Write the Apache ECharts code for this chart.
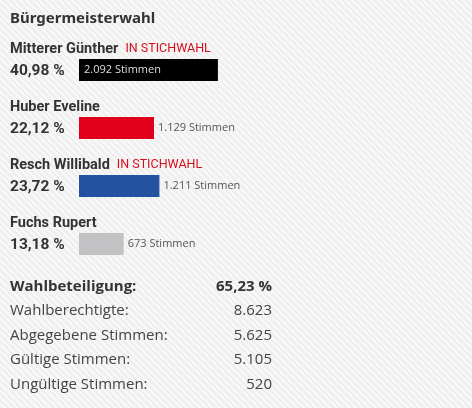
<!DOCTYPE html>
<html>
<head>
<meta charset="utf-8">
<script src="https://cdn.jsdelivr.net/npm/echarts@6/dist/echarts.min.js"></script>
<style>
html,body{margin:0;padding:0;}
body{background:repeating-linear-gradient(45deg,#efefef 0px,#efefef 2.4px,#f8f8f8 2.4px,#f8f8f8 4.6px);}
#chart{width:472px;height:408px;}
</style>
</head>
<body>
<div id="chart"></div>
<script>
var title = 'Bürgermeisterwahl';
var candidates = ['Mitterer Günther', 'Huber Eveline', 'Resch Willibald', 'Fuchs Rupert'];
var percents = [40.98, 22.12, 23.72, 13.18];
var votes = [2092, 1129, 1211, 673];
var runoff = [true, false, true, false];
var barColors = ['#000000', '#e0001b', '#2353a0', '#c2c2c4'];
var runoffTag = 'IN STICHWAHL';
var statLabels = ['Wahlbeteiligung:', 'Wahlberechtigte:', 'Abgegebene Stimmen:', 'Gültige Stimmen:', 'Ungültige Stimmen:'];
var statValues = ['65,23 %', '8.623', '5.625', '5.105', '520'];

function fmtPct(v){ return v.toFixed(2).replace('.', ',') + ' %'; }
function fmtInt(v){ return String(v).replace(/\B(?=(\d{3})+(?!\d))/g, '.'); }

var narrow = 'Roboto,sans-serif';
var chart = echarts.init(document.getElementById('chart'), null, {renderer:'canvas'});

var barData = percents.map(function(p, i){
  var inside = i === 0;
  return {
    value: p,
    itemStyle: {color: barColors[i]},
    label: inside ? {
      show: true, position: 'insideLeft', distance: 5, color: '#dddddd',
      fontSize: 11, fontFamily: '"Open Sans",sans-serif',
      formatter: fmtInt(votes[i]) + ' Stimmen'
    } : {
      show: true, position: 'right', distance: 4, color: '#555555',
      fontSize: 11, fontFamily: '"Open Sans",sans-serif', padding: [4,0,0,0],
      formatter: fmtInt(votes[i]) + ' Stimmen'
    }
  };
});

var option = {
  animation: false,
  backgroundColor: 'transparent',
  title: {
    text: title, left: 10, top: 11, padding: 0,
    textStyle: {fontSize: 15, fontWeight: 'bold', color: '#333333', fontFamily: '"Noto Sans",sans-serif'}
  },
  grid: [
    {left: 79, top: 41, width: 339, height: 232},
    {left: 10, top: 274, width: 262, height: 122.5}
  ],
  xAxis: [
    {gridIndex: 0, type: 'value', min: 0, max: 100, show: false},
    {gridIndex: 1, type: 'value', min: 0, max: 1, show: false}
  ],
  yAxis: [
    {
      gridIndex: 0, type: 'category', inverse: true, data: candidates,
      axisLine: {show: false}, axisTick: {show: false}, splitLine: {show: false},
      axisLabel: {
        margin: 69, align: 'left', verticalAlign: 'middle', padding: [0,0,20,0],
        formatter: function(v, i){
          var s = '{n|' + v + '}';
          if (runoff[i]) s += '{t|' + runoffTag + '}';
          s += '\n{p|' + fmtPct(percents[i]) + '}';
          return s;
        },
        rich: {
          n: {fontSize: 14.5, fontWeight: 'bold', color: '#333333', fontFamily: narrow, lineHeight: 22},
          t: {fontSize: 12.5, color: '#d60f1c', fontFamily: narrow, lineHeight: 22, padding: [0,0,0,7]},
          p: {fontSize: 15.5, fontWeight: 'bold', color: '#333333', fontFamily: narrow, lineHeight: 22}
        }
      }
    },
    {
      gridIndex: 1, type: 'category', inverse: true, data: statLabels, position: 'left',
      axisLine: {show: false}, axisTick: {show: false}, splitLine: {show: false},
      axisLabel: {
        inside: true, margin: 0, align: 'left', fontSize: 15, color: '#444444',
        fontFamily: '"Open Sans",sans-serif',
        formatter: function(v, i){ return i === 0 ? '{b|' + v + '}' : v; },
        rich: {b: {fontSize: 15, fontWeight: 'bold', color: '#333333', fontFamily: '"Open Sans",sans-serif'}}
      }
    },
    {
      gridIndex: 1, type: 'category', inverse: true, data: statValues, position: 'right',
      axisLine: {show: false}, axisTick: {show: false}, splitLine: {show: false},
      axisLabel: {
        inside: true, margin: 0, align: 'right', fontSize: 15, color: '#444444',
        fontFamily: '"Open Sans",sans-serif',
        formatter: function(v, i){ return i === 0 ? '{b|' + v + '}' : v; },
        rich: {b: {fontSize: 15, fontWeight: 'bold', color: '#333333', fontFamily: '"Open Sans",sans-serif'}}
      }
    }
  ],
  series: [
    {
      type: 'bar', xAxisIndex: 0, yAxisIndex: 0, barWidth: 22, data: barData, silent: true
    },
    {
      type: 'bar', xAxisIndex: 1, yAxisIndex: 1, data: statLabels.map(function(){ return 0; }),
      itemStyle: {opacity: 0}, silent: true
    }
  ]
};
chart.setOption(option);
</script>
</body>
</html>
